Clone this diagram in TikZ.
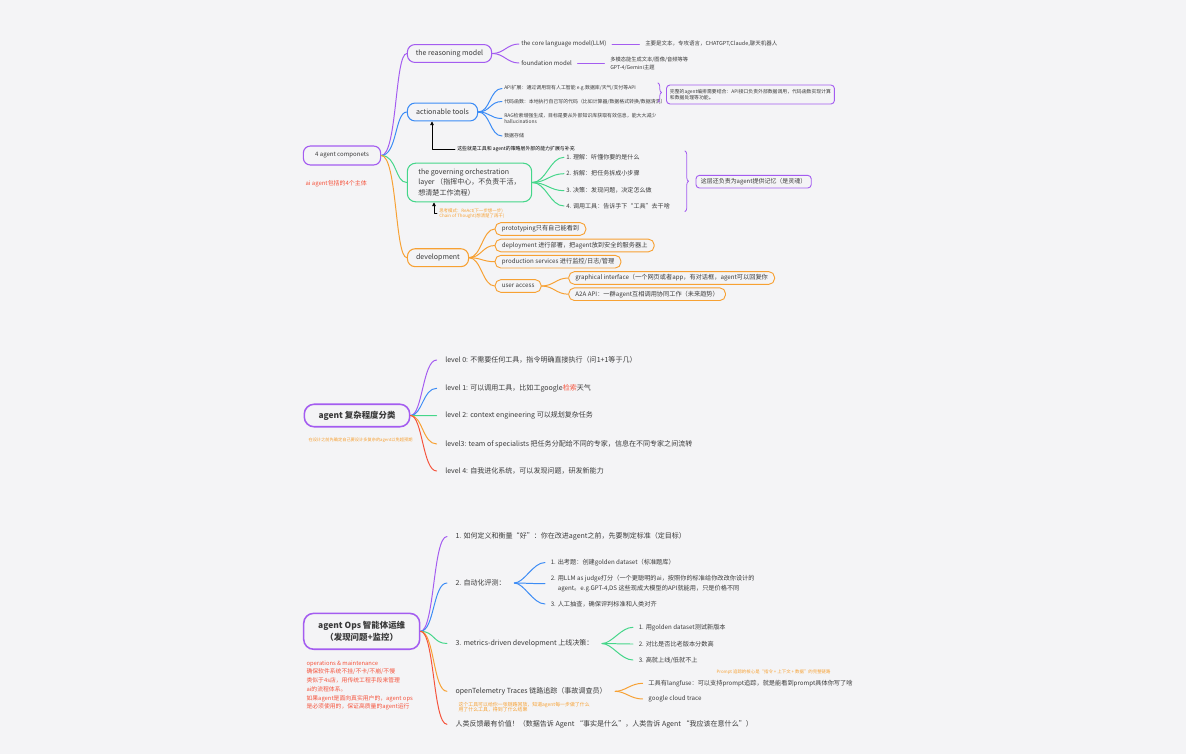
\documentclass[tikz,border=0pt]{standalone}
\usepackage{fontspec}
\setmainfont{Noto Sans CJK SC}
\usetikzlibrary{arrows.meta,calc,positioning,decorations.pathreplacing}

\definecolor{mmpurple}{HTML}{A45CF0}
\definecolor{mmblue}{HTML}{3C8CF5}
\definecolor{mmgreen}{HTML}{45D68A}
\definecolor{mmorange}{HTML}{F7A133}
\definecolor{mmred}{HTML}{F4533C}
\definecolor{mmtext}{HTML}{3A3A3A}
\definecolor{mmbg}{HTML}{F4F4F6}

\begin{document}
\begin{tikzpicture}[
    x=0.05cm,
    y=-0.05cm,
    line cap=round,
    line join=round,
    every node/.style={text=mmtext},
    rootbox/.style={draw=mmpurple, line width=2.2pt, rounded corners=14pt, align=center},
    box/.style={draw, line width=1.5pt, rounded corners=11pt, minimum height=25.5pt, inner xsep=9pt, font=\fontsize{10}{15}\selectfont},
    smallbox/.style={draw, line width=1.3pt, rounded corners=8pt, minimum height=18pt, inner xsep=9.5pt, anchor=west, font=\fontsize{8.8}{11}\selectfont},
    branch/.style={line width=1.4pt},
    leaf/.style={anchor=west, inner xsep=3pt, inner ysep=1pt, align=left, font=\fontsize{8.6}{11}\selectfont},
    tiny/.style={anchor=west, inner xsep=3pt, inner ysep=1pt, align=left, font=\fontsize{7}{9.2}\selectfont},
    item/.style={anchor=west, inner xsep=12pt, inner ysep=1pt, font=\fontsize{10}{12}\selectfont},
    subitem/.style={anchor=west, inner xsep=8pt, inner ysep=1pt, align=left, font=\fontsize{8.8}{13.2}\selectfont},
    note/.style={anchor=west, inner xsep=2pt, inner ysep=1pt, align=left},
    curly/.style={decorate, decoration={brace, amplitude=5pt}, line width=1.1pt, mmpurple},
    pointer/.style={line width=0.9pt, black, -{Triangle[length=5pt,width=5pt]}}
]

% canvas
\fill[mmbg] (0,0) rectangle (1186,754);
\useasboundingbox (0,0) rectangle (1186,754);

% 4 agent components
\node[rootbox, line width=1.6pt, rounded corners=10pt, minimum width=110pt, minimum height=27pt,
    font=\fontsize{8.6}{10}\selectfont] (comp) at (342,155.5) {4 agent componets};
\node[note, text=mmred, font=\fontsize{8.5}{10}\selectfont] (compnote) at (304,184)
    {ai agent包括的4个主体};

% the reasoning model
\node[box, draw=mmpurple, minimum width=120pt] (reason) at (449.5,53.5) {the reasoning model};
\node[leaf] (llm) at (519,44) {the core language model(LLM)};
\node[leaf] (found) at (519,63) {foundation model};
\node[tiny, font=\fontsize{7.8}{10}\selectfont] (llmnote) at (643,44)
    {主要是文本，专攻语言，CHATGPT,Claude,聊天机器人};
\node[tiny, font=\fontsize{7.5}{10.8}\selectfont] (foundnote) at (608,63.5)
    {多模态能生成文本/图像/音频等等\\GPT-4/Gemini主题};

\draw[branch, mmpurple] (reason.east) .. controls +(12,0) and +(-12,0) .. (llm.west);
\draw[branch, mmpurple] (reason.east) .. controls +(12,0) and +(-12,0) .. (found.west);
\draw[branch, mmpurple, shorten <=5pt, shorten >=5pt] (llm.east) -- (llmnote.west);
\draw[branch, mmpurple, shorten <=5pt, shorten >=5pt] (found.east) -- (found.east -| foundnote.west);

% actionable tools
\node[box, draw=mmblue, minimum width=100pt] (tools) at (442.5,112) {actionable tools};
\node[tiny] (api) at (502,88.5)
    {API扩展：通过调用现有人工智能 e.g.数据库/天气/支付等API};
\node[tiny] (func) at (502,101.5)
    {代码函数：本地执行自己写的代码（比如计算器/数据格式转换/数据清洗）};
\node[tiny] (rag) at (502,118.5)
    {RAG检索增强生成，目标是要从外部知识库获取有效信息，能大大减少\\hallucinations};
\node[tiny] (store) at (502,136) {数据存储};

\draw[branch, mmblue] (tools.east) .. controls +(12,0) and +(-12,0) .. (api.west);
\draw[branch, mmblue] (tools.east) .. controls +(12,0) and +(-12,0) .. (func.west);
\draw[branch, mmblue] (tools.east) .. controls +(12,0) and +(-12,0) .. (rag.west);
\draw[branch, mmblue] (tools.east) .. controls +(12,0) and +(-12,0) .. (store.west);

\draw[curly] (658,83) -- (658,102);
\node[note, draw=mmpurple, line width=1.3pt, rounded corners=5pt, inner xsep=5pt, inner ysep=3pt,
    minimum width=235pt, minimum height=27pt, font=\fontsize{6.9}{9.4}\selectfont] (toolnote) at (666,94.5)
    {完整的agent编排需要结合：API接口负责外部数据调用，代码函数实现计算\\和数据处理等功能。};

% pointer up to the tools
\coordinate (toolstip) at (432,121.5);
\node[tiny, text=black] (toolslink) at (455,149.5)
    {这些就是工具和 agent的策略层外部的能力扩展与补充};
\draw[pointer] (toolslink.west) -| (toolstip);

% the governing orchestration layer
\node[box, draw=mmgreen, align=left, minimum width=177pt, minimum height=55pt, rounded corners=12pt]
    (orch) at (469.5,182.5)
    {the governing orchestration\\layer （指挥中心，不负责干活，\\想清楚工作流程）};
\node[leaf] (o1) at (564,157.3) {1. 理解：听懂你要的是什么};
\node[leaf] (o2) at (564,173.7) {2. 拆解：把任务拆成小步骤};
\node[leaf] (o3) at (564,190.7) {3. 决策：发现问题，决定怎么做};
\node[leaf] (o4) at (564,206) {4. 调用工具：告诉手下“工具”去干啥};

\draw[branch, mmgreen] (orch.east) .. controls +(14,0) and +(-14,0) .. (o1.west);
\draw[branch, mmgreen] (orch.east) .. controls +(14,0) and +(-14,0) .. (o2.west);
\draw[branch, mmgreen] (orch.east) .. controls +(14,0) and +(-14,0) .. (o3.west);
\draw[branch, mmgreen] (orch.east) .. controls +(14,0) and +(-14,0) .. (o4.west);

\draw[curly] (685,151) -- (685,211.5);
\node[smallbox, draw=mmpurple, rounded corners=5pt, inner xsep=7pt, font=\fontsize{8.5}{10}\selectfont]
    (memory) at (695.5,181.7) {这层还负责为agent提供记忆（是灵魂）};

% pointer up to the orchestration layer
\coordinate (thinktip) at (434,202.5);
\node[tiny, text=mmorange, font=\fontsize{6.3}{7.5}\selectfont] (thinknote) at (437,213.7)
    {思考模式：ReAct(下一步想一步)\\Chain of Thought(想清楚了再干)};
\draw[pointer] (thinknote.west) -| (thinktip);

% development
\node[box, draw=mmorange, minimum width=87pt] (dev) at (438,257.7) {development};
\node[smallbox, draw=mmorange] (proto) at (494.7,229) {prototyping只有自己能看到};
\node[smallbox, draw=mmorange] (deploy) at (494.7,245.5) {deployment 进行部署，把agent放到安全的服务器上};
\node[smallbox, draw=mmorange] (prod) at (494.7,261.7) {production services 进行监控/日志/管理};
\node[smallbox, draw=mmorange] (user) at (494.7,286) {user access};
\node[smallbox, draw=mmorange] (gui) at (568.3,278)
    {graphical interface（一个网页或者app，有对话框，agent可以回复你};
\node[smallbox, draw=mmorange] (a2a) at (568.3,294.2)
    {A2A API：一群agent互相调用协同工作（未来趋势）};

\draw[branch, mmorange] (dev.east) .. controls +(12,0) and +(-12,0) .. (proto.west);
\draw[branch, mmorange] (dev.east) .. controls +(12,0) and +(-12,0) .. (deploy.west);
\draw[branch, mmorange] (dev.east) .. controls +(12,0) and +(-12,0) .. (prod.west);
\draw[branch, mmorange] (dev.east) .. controls +(12,0) and +(-12,0) .. (user.west);
\draw[branch, mmorange] (user.east) .. controls +(12,0) and +(-12,0) .. (gui.west);
\draw[branch, mmorange] (user.east) .. controls +(12,0) and +(-12,0) .. (a2a.west);

% main branches
\draw[branch, mmpurple] (comp.east) .. controls +(16,0) and +(-12,0) .. (reason.west);
\draw[branch, mmblue] (comp.east) .. controls +(16,0) and +(-12,0) .. (tools.west);
\draw[branch, mmgreen] (comp.east) .. controls +(16,0) and +(-12,0) .. (orch.west);
\draw[branch, mmorange] (comp.east) .. controls +(16,0) and +(-12,0) .. (dev.west);

% agent complexity levels
\node[rootbox, minimum width=150pt, minimum height=32pt, font=\bfseries\fontsize{12}{14}\selectfont]
    (cplx) at (357,415.5) {agent 复杂程度分类};
\node[note, text=mmorange, font=\fontsize{6}{7}\selectfont] (cplxnote) at (307,440)
    {在设计之前先确定自己要设计多复杂的agent以免超预期};
\node[item] (lv0) at (436.7,360) {level 0: 不需要任何工具，指令明确直接执行（问1+1等于几）};
\node[item] (lv1) at (436.7,388.3) {level 1: 可以调用工具，比如工google\textcolor{mmred}{检索}天气};
\node[item] (lv2) at (436.7,415.7) {level 2: context engineering 可以规划复杂任务};
\node[item] (lv3) at (436.7,444) {level3: team of specialists 把任务分配给不同的专家，信息在不同专家之间流转};
\node[item] (lv4) at (436.7,471) {level 4: 自我进化系统，可以发现问题，研发新能力};

\draw[branch, mmpurple] (cplx.east) .. controls +(12,0) and +(-14,0) .. (lv0.west);
\draw[branch, mmblue] (cplx.east) .. controls +(12,0) and +(-14,0) .. (lv1.west);
\draw[branch, mmgreen] (cplx.east) .. controls +(12,0) and +(-14,0) .. (lv2.west);
\draw[branch, mmorange] (cplx.east) .. controls +(12,0) and +(-14,0) .. (lv3.west);
\draw[branch, mmred] (cplx.east) .. controls +(12,0) and +(-14,0) .. (lv4.west);

% agent ops
\node[rootbox, minimum width=165pt, minimum height=51pt, font=\bfseries\fontsize{12}{18}\selectfont]
    (ops) at (361.7,631.3) {agent Ops 智能体运维\\（发现问题+监控）};
\node[note, text=mmred, font=\fontsize{8.3}{12.4}\selectfont] (opsnote) at (305,685.5)
    {operations \& maintenance\\确保软件系统不挂/不卡/不崩/不慢\\类似于4s店，用传统工程手段来管理\\ai的流程体系。\\如果agent是面向真实用户的，agent ops\\是必须使用的，保证高质量的agent运行};

\node[item] (s1) at (447,536.5) {1. 如何定义和衡量“好”：你在改进agent之前，先要制定标准（定目标）};
\node[item] (s2) at (447,583) {2. 自动化评测：};
\node[subitem] (s21) at (545,562.5) {1. 出考题：创建golden dataset（标准题库）};
\node[subitem] (s22) at (545,583.7)
    {2. 用LLM as judge打分（一个更聪明的ai，按照你的标准给你改改你设计的\\\phantom{2. }agent。e.g.GPT-4,DS 这些现成大模型的API就能用，只是价格不同};
\node[subitem] (s23) at (545,604) {3. 人工抽查，确保评判标准和人类对齐};
\node[item] (s3) at (447,643.5) {3. metrics-driven development 上线决策：};
\node[subitem] (s31) at (633,627.3) {1. 用golden dataset测试新版本};
\node[subitem] (s32) at (633,644) {2. 对比是否比老版本分数高};
\node[subitem] (s33) at (633,660) {3. 高就上线/低就不上};
\node[item] (s4) at (447,691.3) {openTelemetry Traces 链路追踪（事故调查员）};
\node[note, text=mmorange, font=\fontsize{7}{8}\selectfont] (s4note) at (457,707)
    {这个工具可以给你一张链路回放，知道agent每一步做了什么\\用了什么工具，得到了什么结果};
\node[subitem] (s41) at (642.7,683.3) {工具有langfuse：可以支持prompt追踪，就是能看到prompt具体你写了啥};
\node[subitem] (s42) at (642.7,699) {google cloud trace};
\node[note, text=mmorange, font=\fontsize{6.3}{7}\selectfont] (s41note) at (715,672)
    {Prompt 追踪的核心是“指令 + 上下文 + 数据”的完整链路};
\node[item] (s5) at (447,724.3)
    {人类反馈最有价值！（数据告诉 Agent “事实是什么”，人类告诉 Agent “我应该在意什么”）};

\draw[branch, mmpurple] (ops.east) .. controls +(14,0) and +(-14,0) .. (s1.west);
\draw[branch, mmblue] (ops.east) .. controls +(14,0) and +(-14,0) .. (s2.west);
\draw[branch, mmgreen] (ops.east) .. controls +(14,0) and +(-14,0) .. (s3.west);
\draw[branch, mmorange] (ops.east) .. controls +(14,0) and +(-14,0) .. (s4.west);
\draw[branch, mmred] (ops.east) .. controls +(14,0) and +(-14,0) .. (s5.west);

\draw[branch, mmblue] (s2.east) .. controls +(10,0) and +(-12,0) .. (s21.west);
\draw[branch, mmblue] (s2.east) .. controls +(10,0) and +(-12,0) .. (s22.west);
\draw[branch, mmblue] (s2.east) .. controls +(10,0) and +(-12,0) .. (s23.west);
\draw[branch, mmgreen] (s3.east) .. controls +(10,0) and +(-12,0) .. (s31.west);
\draw[branch, mmgreen] (s3.east) .. controls +(10,0) and +(-12,0) .. (s32.west);
\draw[branch, mmgreen] (s3.east) .. controls +(10,0) and +(-12,0) .. (s33.west);
\draw[branch, mmorange] (s4.east) .. controls +(10,0) and +(-12,0) .. (s41.west);
\draw[branch, mmorange] (s4.east) .. controls +(10,0) and +(-12,0) .. (s42.west);

\end{tikzpicture}
\end{document}
